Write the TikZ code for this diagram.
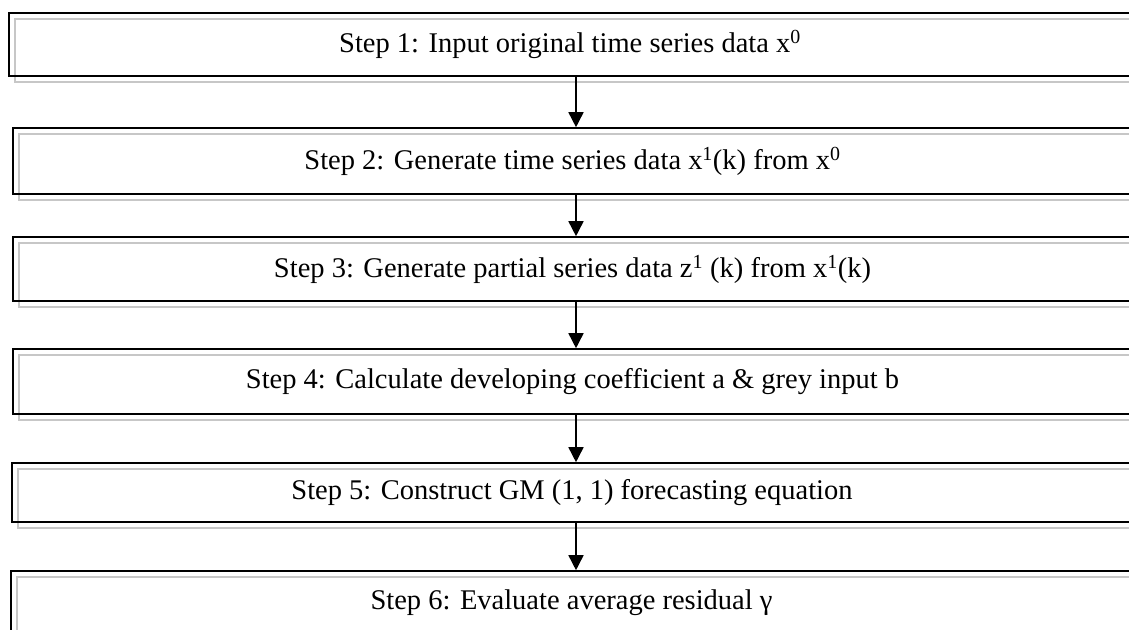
\documentclass[tikz,border=0pt]{standalone}
\usepackage{fontspec}
\setmainfont{Liberation Serif}
\usetikzlibrary{arrows.meta,shadows}
\tikzset{
  stepbox/.style={draw, line width=1.6pt, inner sep=0pt, minimum width=1122pt,
    copy shadow={shadow xshift=6pt, shadow yshift=-6pt, draw=black!22, line width=1.8pt, fill=none},
    font=\fontsize{28.5}{34}\selectfont},
  flow/.style={-{Triangle[width=15pt,length=15pt]}, line width=1.6pt},
}

\begin{document}
\begin{tikzpicture}[x=1pt,y=-1pt]
  \clip (0,0) rectangle (1129,629);
  \fill[white] (0,0) rectangle (1129,629);
  \coordinate (ax) at (576,0);
  % the six steps
  \node[stepbox, minimum height=63pt] (s1) at (570,44.5) {Step 1: Input original time series data x\textsuperscript{0}};
  \node[stepbox, minimum height=66pt, minimum width=1119pt] (s2) at (572.5,161) {Step 2: Generate time series data x\textsuperscript{1}(k) from x\textsuperscript{0}};
  \node[stepbox, minimum height=64pt, minimum width=1119pt] (s3) at (572.5,269) {Step 3: Generate partial series data z\textsuperscript{1} (k) from x\textsuperscript{1}(k)};
  \node[stepbox, minimum height=65pt, minimum width=1119pt] (s4) at (572.5,381.5) {Step 4: Calculate developing coefficient a \& grey input b};
  \node[stepbox, minimum height=59pt, minimum width=1120pt] (s5) at (572,492.5) {Step 5: Construct GM (1, 1) forecasting equation};
  \node[stepbox, minimum height=64pt, minimum width=1121pt] (s6) at (571.5,603) {Step 6: Evaluate average residual γ};
  % arrows
  \foreach \a/\b in {s1/s2,s2/s3,s3/s4,s4/s5,s5/s6}
    \draw[flow] (\a.south -| ax) -- (\b.north -| ax);
\end{tikzpicture}
\end{document}
